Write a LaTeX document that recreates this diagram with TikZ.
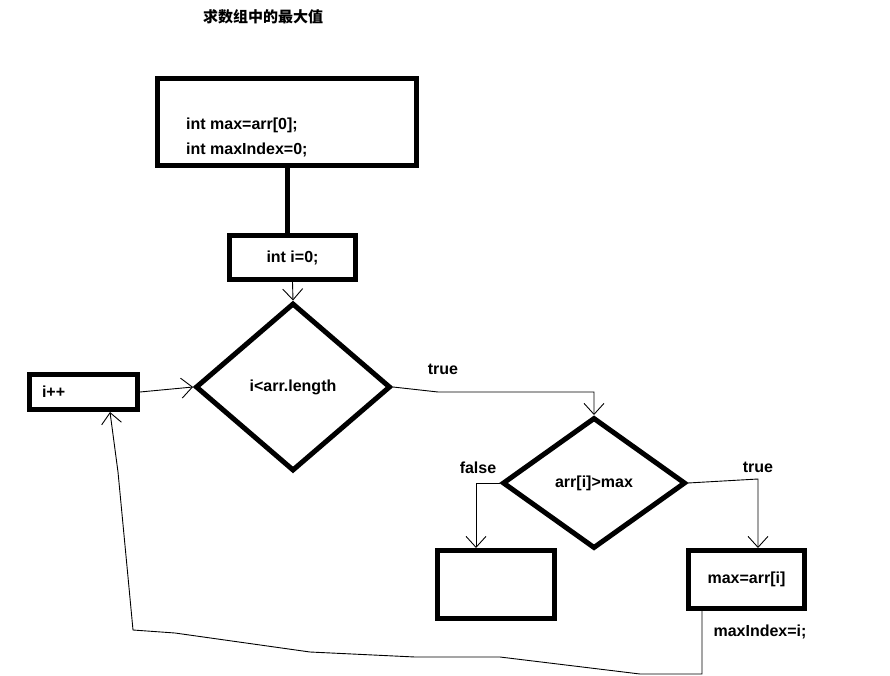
\documentclass[tikz,border=0pt]{standalone}
\usepackage{fontspec}
\setmainfont{Liberation Sans}
\newfontfamily\cjk{Noto Sans CJK SC}
\usepackage{tikz}
\usetikzlibrary{arrows.meta, positioning, shapes.geometric}

\begin{document}
\begin{tikzpicture}[
			x=1pt, y=-1pt,
			codebox/.style={rectangle, draw, line width=5pt, inner sep=0pt,
				font=\fontsize{16}{25}\selectfont\bfseries},
			decision/.style={diamond, draw, line width=5pt, inner sep=0pt, aspect=1,
				font=\fontsize{16}{25}\selectfont\bfseries},
			txt/.style={inner sep=0pt, font=\fontsize{16}{25}\selectfont\bfseries},
			arr/.style={-{Straight Barb[length=11pt, width=20pt]}, line width=0.9pt}
			]
			\useasboundingbox (0,0) rectangle (890,676);
			
			\node[font=\cjk\bfseries\fontsize{15}{18}\selectfont] (title) at (263,17) {求数组中的最大值};
			
			\node[codebox, minimum width=259pt, minimum height=87pt] (init) at (287,122) {};
			\node[txt, anchor=west, align=left] (inittxt) at (186,137) {int max=arr[0];\\int maxIndex=0;};
			\node[codebox, minimum width=126pt, minimum height=44pt] (start) at (292.5,257.5) {int i=0;};
			\node[decision, minimum width=195pt, minimum height=168pt] (loop) at (293,387) {i<arr.length};
			\node[codebox, minimum width=108pt, minimum height=35pt, text width=83pt,
				inner xsep=12.5pt, align=left] (inc) at (83.5,392) {i++};
			\node[decision, minimum width=183pt, minimum height=131pt] (cmp) at (594,483) {arr[i]>max};
			\node[codebox, minimum width=117pt, minimum height=68pt] (skip) at (496,584.5) {};
			\node[codebox, minimum width=116pt, minimum height=58pt] (upd) at (746.5,579.5) {max=arr[i]};
			\node[txt] (updidx) at (760,632) {maxIndex=i;};
			
			\node[txt] (ltrue) at (443,369) {true};
			\node[txt] (lfalse) at (478,468) {false};
			\node[txt] (ltrue2) at (758,467) {true};
			
			\draw[line width=5pt] (init.south) -- (init.south |- start.north);
			\draw[arr] (start.south) -- (loop.north);
			\draw[arr] (inc.east) -- (loop.west);
			\draw[arr] (loop.east) -- ++(45,5) -| (cmp.north);
			\draw[arr] (cmp.west) -- ++(-24,0) coordinate (fk) -- (fk |- skip.north);
			\draw[arr] (cmp.east) -- ++(70,-4) coordinate (tk) -- (tk |- upd.north);
			\draw[arr] ([xshift=-44.5pt]upd.south) -- ++(0,63) -- ++(-62,0) -- ++(-140,-17)
				-- ++(-85,0) -- ++(-105,-5) -- ++(-135,-19) -- ++(-42,-3) -- ++(-5,-53)
				-- ++(-10,-105) -- ([xshift=26.5pt]inc.south);
		\end{tikzpicture}
\end{document}
